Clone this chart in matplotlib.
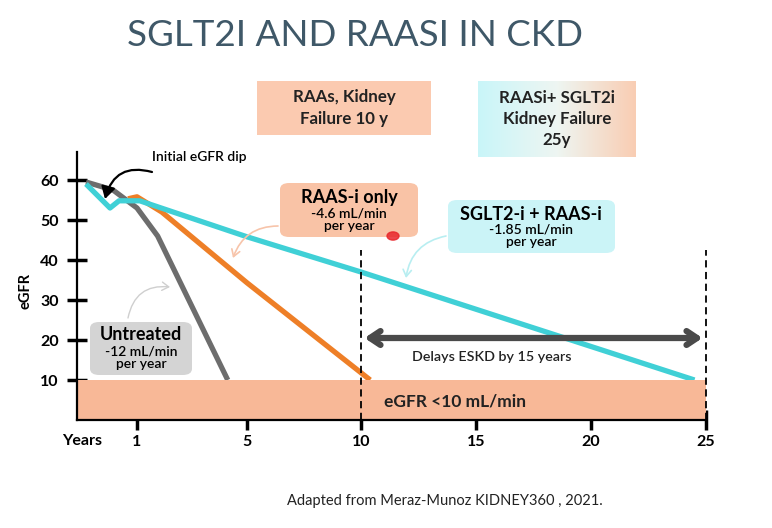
import numpy as np
import matplotlib
matplotlib.use("Agg")
import matplotlib.pyplot as plt
from matplotlib.patches import FancyBboxPatch, Rectangle
from matplotlib.colors import LinearSegmentedColormap

plt.rcParams['font.family'] = ['Lato', 'DejaVu Sans']

# data (years, eGFR)
untreated_x = [0.15, 0.6, 1.0, 1.75, 4.3]
untreated_y = [59.5, 57.5, 53.0, 46.0, 10.0]
raas_x = [0.85, 1.0, 1.9, 5.0, 10.4]
raas_y = [55.3, 55.8, 52.0, 34.3, 10.0]
sglt2_x = [0.15, 0.55, 0.7, 1.1, 5.0, 10.0, 24.5]
sglt2_y = [59.0, 53.0, 54.8, 54.8, 45.8, 37.0, 10.0]
xticks = [1, 5, 10, 15, 20, 25]
yticks = [10, 20, 30, 40, 50, 60]

# the schematic x axis is stretched at the start
knots_yr = [-10, 0, 1, 5, 10, 25, 40]
knots_px = [-600, 0, 60, 170, 284, 629, 974]
def fwd(x):
    return np.interp(x, knots_yr, knots_px)
def inv(p):
    return np.interp(p, knots_px, knots_yr)

W, H = 772, 528
fig = plt.figure(figsize=(W / 100, H / 100), dpi=100)

def fx(x): return x / W
def fy(y): return 1 - y / H

# axes: x 0 at px 77, y 0 at px 420, 4 px per eGFR unit
ax = fig.add_axes([fx(77), fy(420), (729 - 77) / W, 280 / H])
ax.set_xscale('function', functions=(fwd, inv))
ax.set_xlim(0, 26)
ax.set_ylim(0, 70)

ax.plot(untreated_x, untreated_y, color='#6d6d6d', lw=3.8, solid_capstyle='butt', zorder=3)
ax.plot(raas_x, raas_y, color='#ee7f27', lw=3.8, solid_capstyle='butt', zorder=3)
ax.plot(sglt2_x, sglt2_y, color='#40d0d6', lw=3.8, solid_capstyle='butt', zorder=3)

ax.fill_between([0, 25], 0, 10, color='#f8b897', lw=0, zorder=4)
ax.text(14.1, 4.7, 'eGFR <10 mL/min', fontsize=12.5, fontweight='bold',
        ha='center', va='center', color='#222222', zorder=6)

ax.plot([10, 10], [0, 42.5], color='black', lw=1.3, ls=(0, (4, 2.5)), zorder=5)
ax.plot([25, 25], [0, 42.5], color='black', lw=1.3, ls=(0, (4, 2.5)), zorder=5)

ax.annotate('', xy=(24.85, 20.5), xytext=(10.15, 20.5),
            arrowprops=dict(arrowstyle='<->,head_length=0.75,head_width=0.5',
                            lw=4.5, color='#4a4a4a', shrinkA=0, shrinkB=0), zorder=5)
ax.text(15.7, 15.8, 'Delays ESKD by 15 years', fontsize=10.3, ha='center',
        va='center', color='#222222', fontweight='semibold')

for s in ['top', 'right']:
    ax.spines[s].set_visible(False)
ax.spines['left'].set_bounds(0, 67)
ax.spines['bottom'].set_bounds(0, 25)
for s in ['left', 'bottom']:
    ax.spines[s].set_linewidth(1.6)
    ax.spines[s].set_zorder(7)
ax.set_xticks(xticks)
ax.set_yticks(yticks)
ax.tick_params(axis='both', direction='inout', width=2.5, labelsize=11.5)
ax.tick_params(axis='y', length=14, pad=6)
ax.tick_params(axis='x', length=14, pad=4)
for lab in ax.get_xticklabels() + ax.get_yticklabels():
    lab.set_fontweight('bold')
ax.set_ylabel('eGFR', fontsize=10.5, fontweight='bold', labelpad=2)
ax.yaxis.set_label_coords(-0.068, 0.46)
ax.patch.set_alpha(0)

fig.text(fx(82), fy(441), 'Years', fontsize=11.5, fontweight='bold', ha='center', va='center')

# title
fig.text(fx(355), fy(36), 'SGLT2I AND RAASI IN CKD', fontsize=26.5, color='#3f5868',
         ha='center', va='center')

# top boxes
fig.patches.append(Rectangle((fx(257), fy(135)), 174 / W, 54 / H, transform=fig.transFigure,
                             facecolor='#fbcab0', edgecolor='none'))
fig.text(fx(344), fy(108), 'RAAs, Kidney\nFailure 10 y', fontsize=12.2, fontweight='bold',
         ha='center', va='center', linespacing=1.4, color='#222222')

gax = fig.add_axes([fx(478), fy(157), 158 / W, 76 / H])
grad = LinearSegmentedColormap.from_list('g', ['#c9f5f9', '#eef6f2', '#f9cdb3'])
gax.imshow(np.linspace(0, 1, 200).reshape(1, -1), cmap=grad, aspect='auto')
gax.axis('off')
fig.text(fx(557), fy(119), 'RAASi+ SGLT2i\nKidney Failure\n25y', fontsize=12.2,
         fontweight='bold', ha='center', va='center', linespacing=1.4, color='#222222')

# annotation boxes
def rbox(x0, y0, x1, y1, color):
    fig.patches.append(FancyBboxPatch((fx(x0), fy(y1)), (x1 - x0) / W, (y1 - y0) / H,
                                      boxstyle='round,pad=0,rounding_size=0.012',
                                      transform=fig.transFigure, facecolor=color,
                                      edgecolor='none', zorder=2))

rbox(280, 183, 418, 237, '#f9c3a6')
fig.text(fx(349), fy(197), 'RAAS-i only', fontsize=13, fontweight='bold', ha='center', va='center')
fig.text(fx(349), fy(220), '-4.6 mL/min\nper year', fontsize=10, fontweight='semibold',
         ha='center', va='center', linespacing=1.05)

rbox(448, 200, 615, 253, '#cbf4f7')
fig.text(fx(531), fy(214), 'SGLT2-i + RAAS-i', fontsize=13, fontweight='bold', ha='center', va='center')
fig.text(fx(531), fy(236), '-1.85 mL/min\nper year', fontsize=10, fontweight='semibold',
         ha='center', va='center', linespacing=1.05)

rbox(90, 322, 192, 375, '#d4d4d4')
fig.text(fx(141), fy(335), 'Untreated', fontsize=13, fontweight='bold', ha='center', va='center')
fig.text(fx(141), fy(358), '-12 mL/min\nper year', fontsize=10, fontweight='semibold',
         ha='center', va='center', linespacing=1.05)

# pointer arrows
def farrow(p0, p1, color, lw, rad, style='->,head_length=0.4,head_width=0.25'):
    fig.add_artist(matplotlib.patches.FancyArrowPatch(
        (fx(p0[0]), fy(p0[1])), (fx(p1[0]), fy(p1[1])), transform=fig.transFigure,
        arrowstyle=style, connectionstyle=f'arc3,rad={rad}', color=color, lw=lw,
        shrinkA=0, shrinkB=0, mutation_scale=12))

farrow((128, 318), (170, 287), '#cfcfcf', 1.0, -0.45)
farrow((278, 226), (233, 258), '#f7c4aa', 1.2, 0.35)
farrow((446, 236), (406, 278), '#b8eef1', 1.2, 0.35)
farrow((152, 172), (105, 199), 'black', 1.6, 0.5, style='-|>,head_length=0.6,head_width=0.35')
fig.text(fx(152), fy(157), 'Initial eGFR dip', fontsize=10, fontweight='semibold', ha='left', va='center')

# laser pointer dot
dot = matplotlib.patches.Circle((fx(393), fy(236)), 6 / W, transform=fig.transFigure,
                                color='#e8262b', alpha=0.85, zorder=10)
fig.add_artist(dot)

fig.text(fx(287), fy(501), 'Adapted from Meraz-Munoz KIDNEY360 , 2021.', fontsize=10.5,
         ha='left', va='center', color='#222222')

fig.savefig('out.png', dpi=100)
